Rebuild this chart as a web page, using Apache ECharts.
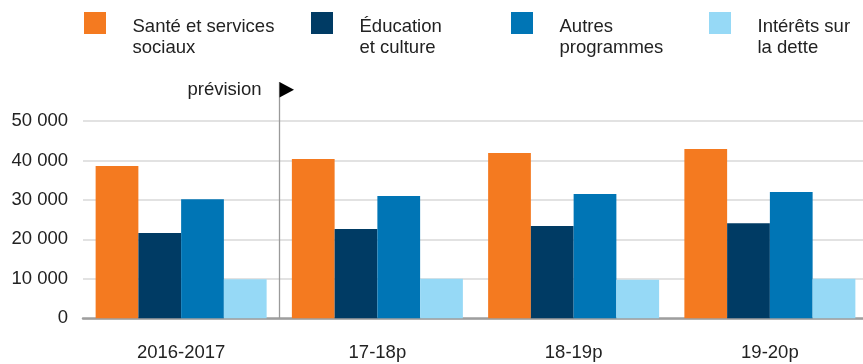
<!DOCTYPE html>
<html>
<head>
<meta charset="utf-8">
<script src="https://cdn.jsdelivr.net/npm/echarts@6/dist/echarts.min.js"></script>
<style>
  html, body { margin: 0; padding: 0; background: #ffffff; }
  #chart { width: 863px; height: 364px; }
</style>
</head>
<body>
<div id="chart"></div>
<script>
// Fiscal years (p = forecast)
const categories = ['2016-2017', '17-18p', '18-19p', '19-20p'];

// Spending by mission, in millions of dollars
const santeServicesSociaux = [38600, 40400, 41900, 42900];
const educationCulture     = [21600, 22600, 23400, 24100];
const autresProgrammes     = [30200, 31000, 31500, 32000];
const interetsDette        = [9900, 10000, 9800, 10000];

const seriesNames = [
  'Santé et services\nsociaux',
  'Éducation\net culture',
  'Autres\nprogrammes',
  'Intérêts sur\nla dette'
];
const seriesValues = [santeServicesSociaux, educationCulture, autresProgrammes, interetsDette];
const seriesColors = ['#F47A20', '#003B64', '#0075B5', '#96D9F6'];

// Y axis ticks
const yMin = 0;
const yMax = 50000;
const yStep = 10000;

// Forecast marker: placed before this category
const forecastLabel = 'prévision';
const forecastStartIndex = 1;

const FONT = '"Liberation Sans", Arial, Helvetica, sans-serif';
const TEXT_COLOR = '#222222';

function formatThousands(v) {
  return String(v).replace(/\B(?=(\d{3})+(?!\d))/g, ' ');
}

// Legend swatch: a 22x22 square sitting at the top of a taller item box,
// so the two-line label hangs below the swatch's top edge.
const SWATCH_ICON = 'path://M0,0H22V22H0Z M0,51L0.01,51';

// One legend block per series, laid out across the top
const legendLefts = [84, 311, 511, 709];
const legends = seriesNames.map((name, i) => ({
  left: legendLefts[i],
  top: 12,
  padding: 0,
  orient: 'horizontal',
  icon: SWATCH_ICON,
  itemWidth: 22,
  itemHeight: 51,
  selectedMode: false,
  data: [name],
  textStyle: {
    fontFamily: FONT,
    fontSize: 18.5,
    lineHeight: 21.5,
    color: TEXT_COLOR,
    padding: [0, 0, 0, 21.5]
  }
}));

const chart = echarts.init(document.getElementById('chart'), null, { renderer: 'canvas' });

chart.setOption({
  animation: false,
  backgroundColor: '#ffffff',
  textStyle: { fontFamily: FONT },
  legend: legends,
  grid: {
    left: 83,
    width: 785,
    top: 121,
    bottom: 45.7,
    containLabel: false,
    outerBoundsMode: 'none'
  },
  xAxis: {
    type: 'category',
    data: categories,
    boundaryGap: true,
    axisTick: { show: false },
    axisLine: { show: true, lineStyle: { color: '#9E9E9E', width: 2.5 } },
    axisLabel: { fontFamily: FONT, fontSize: 18.5, color: TEXT_COLOR, margin: 25 },
    splitLine: { show: false }
  },
  yAxis: {
    type: 'value',
    min: yMin,
    max: yMax,
    interval: yStep,
    axisLine: { show: false },
    axisTick: { show: false },
    splitLine: { show: true, lineStyle: { color: '#D9D9D9', width: 1.5 } },
    axisLabel: {
      fontFamily: FONT,
      fontSize: 18.5,
      color: TEXT_COLOR,
      margin: 15,
      padding: [6, 0, 0, 0],
      formatter: formatThousands
    }
  },
  series: seriesNames.map((name, i) => ({
    name: name,
    type: 'bar',
    data: seriesValues[i],
    barWidth: 42.75,
    barGap: '0%',
    itemStyle: { color: seriesColors[i] },
    emphasis: { disabled: true }
  }))
});

// Forecast divider between the actual year and the forecast years
const xPrev = chart.convertToPixel({ xAxisIndex: 0 }, categories[forecastStartIndex - 1]);
const xNext = chart.convertToPixel({ xAxisIndex: 0 }, categories[forecastStartIndex]);
const xDivider = Math.round((xPrev + xNext) / 2) + 0.5;
const yBase = chart.convertToPixel({ yAxisIndex: 0 }, yMin);
const poleTop = 82;

chart.setOption({
  graphic: [
    {
      type: 'line',
      z: 10,
      shape: { x1: xDivider, y1: poleTop, x2: xDivider, y2: yBase },
      style: { stroke: '#9A9A9A', lineWidth: 1.3 }
    },
    {
      type: 'polygon',
      z: 10,
      shape: { points: [[xDivider, poleTop], [xDivider + 14.5, poleTop + 7.7], [xDivider, poleTop + 15.4]] },
      style: { fill: '#000000' }
    },
    {
      type: 'text',
      z: 10,
      x: xDivider - 18,
      y: poleTop + 8,
      style: {
        text: forecastLabel,
        font: '18.5px ' + FONT,
        fill: TEXT_COLOR,
        align: 'right',
        verticalAlign: 'middle'
      }
    }
  ]
});
</script>
</body>
</html>
